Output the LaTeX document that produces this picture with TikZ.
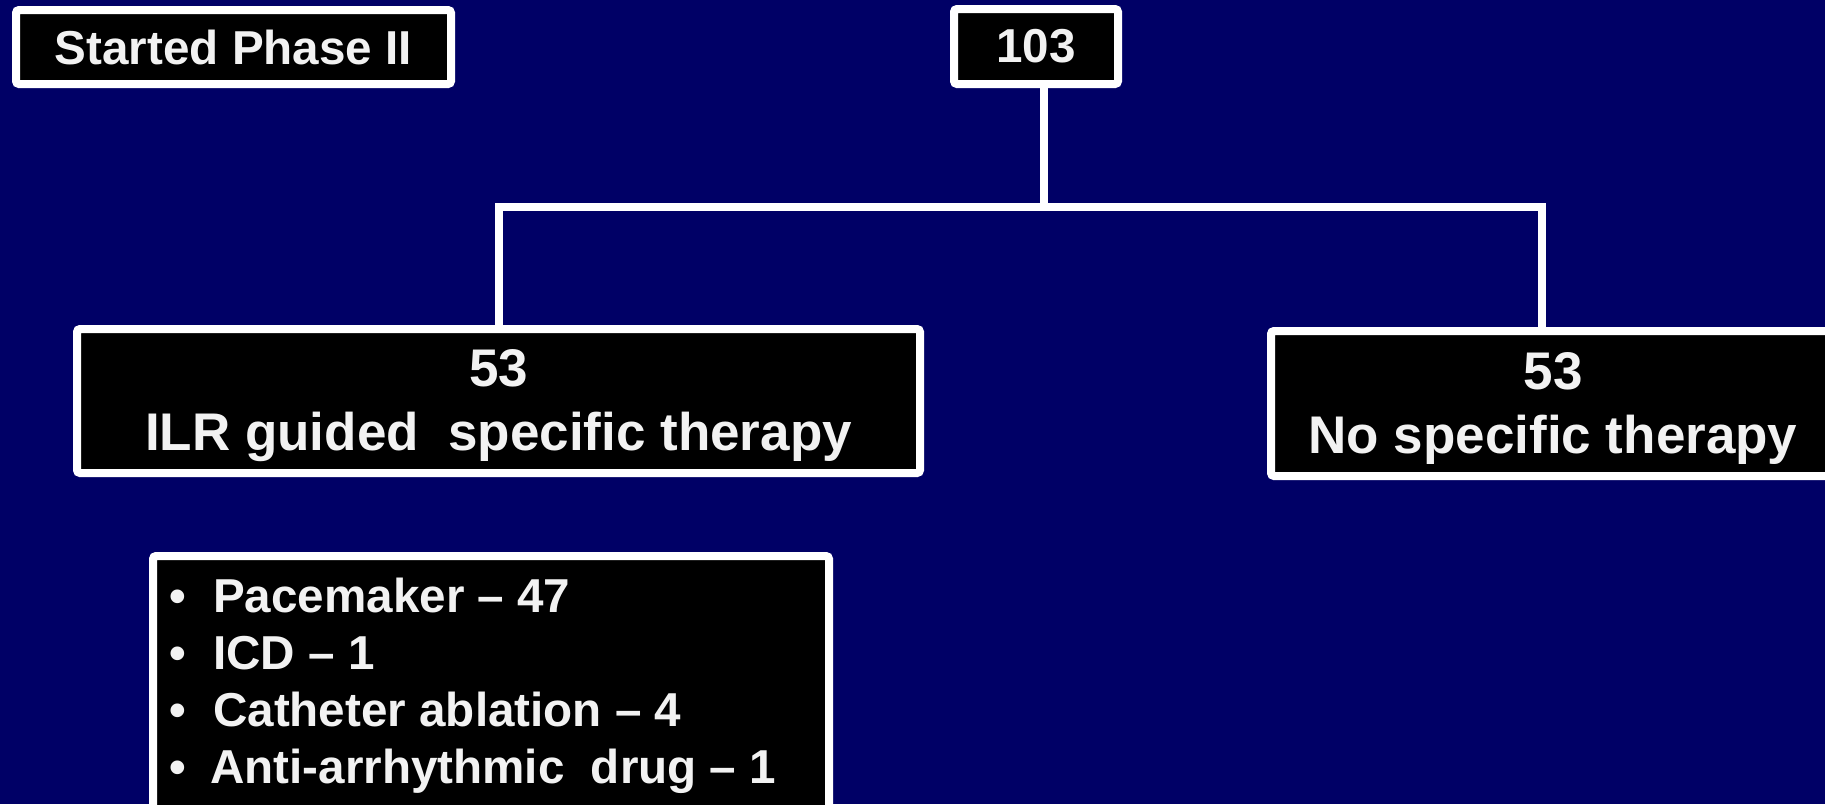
\documentclass[tikz,border=0pt]{standalone}
\usepackage{fontspec}
\setmainfont{Liberation Sans}
\definecolor{navy}{RGB}{0,0,102}
\definecolor{txt}{RGB}{242,242,242}
\begin{document}
\begin{tikzpicture}[x=1pt,y=-1pt,
  box/.style={draw=white, fill=black, line width=8pt, rounded corners=3pt, text=txt, inner sep=0pt, font=\bfseries\fontsize{47.6}{57}\selectfont},
  bigtext/.style={text=txt, inner sep=0pt, align=center, font=\bfseries\fontsize{53}{64}\selectfont},
  item/.style={text=txt, inner sep=0pt, anchor=base west, font=\bfseries\fontsize{47.6}{57}\selectfont},
  conn/.style={draw=white, line width=8pt, line join=miter}]
\useasboundingbox (0,0) rectangle (1825,804);
\fill[navy] (0,0) rectangle (1825,804);
\node[box, minimum width=435pt, minimum height=74pt] (phase) at (233.5,47) {\raisebox{-2pt}{Started Phase II}};
\node[box, minimum width=164pt, minimum height=75pt] (n103) at (1036,46.5) {\raisebox{-2pt}{103}};
\node[box, minimum width=843pt, minimum height=144pt] (ilr) at (498.5,401) {};
\node[bigtext] (ilrt) at (498.5,406) {53\\ILR guided\ \ specific therapy};
\node[box, minimum width=564pt, minimum height=145pt] (nst) at (1553,403.5) {};
\node[bigtext] (nstt) at (1553,408.5) {53\\No specific therapy};
\node[box, minimum width=676pt, minimum height=280pt] (list) at (491,696) {};
\coordinate (hm) at (1043.5,207);
\coordinate (hr) at (1542,207);
\draw[conn] (hm |- n103.south) -- (hm);
\draw[conn] (ilr.north) |- (hr) -- (hr |- nst.north);
\node[item] (i1) at (169,612) {\makebox[44pt][l]{\textbullet}Pacemaker – 47};
\node[item] (i2) at (169,669) {\makebox[44pt][l]{\textbullet}ICD – 1};
\node[item] (i3) at (169,726) {\makebox[44pt][l]{\textbullet}Catheter ablation – 4};
\node[item] (i4) at (169,783) {\makebox[41pt][l]{\textbullet}Anti-arrhythmic\ \ drug – 1};
\end{tikzpicture}
\end{document}
